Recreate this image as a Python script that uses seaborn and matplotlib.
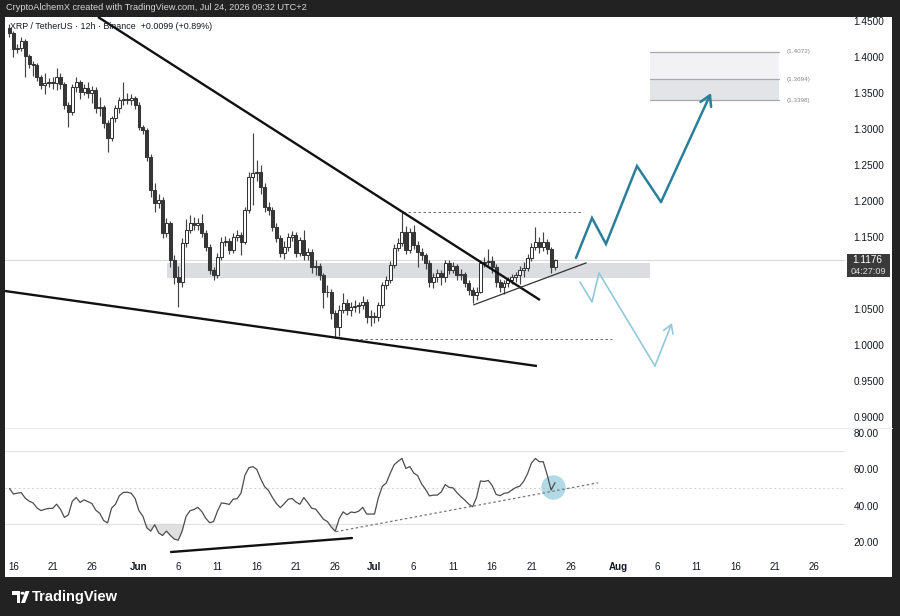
import numpy as np
import pandas as pd
import matplotlib
matplotlib.use("Agg")
import matplotlib.pyplot as plt
import matplotlib.dates as mdates
from matplotlib.patches import Rectangle, Ellipse, Polygon, Circle
import seaborn as sns

sns.set_theme(style="white")
plt.rcParams['font.family'] = ['Liberation Sans', 'DejaVu Sans']

# ---------------- data (XRP/USDT, 12h candles) ----------------
first_candle = "2026-05-15 12:00"
first_open = 1.440
closes = [
    1.433, 1.411, 1.413, 1.422, 1.401, 1.390, 1.389, 1.372, 1.361, 1.364,
    1.365, 1.364, 1.372, 1.362, 1.333, 1.324, 1.358, 1.365, 1.351, 1.357,
    1.350, 1.354, 1.329, 1.331, 1.308, 1.288, 1.315, 1.329, 1.340, 1.342,
    1.341, 1.343, 1.333, 1.303, 1.299, 1.261, 1.215, 1.197, 1.201, 1.156,
    1.169, 1.118, 1.094, 1.088, 1.142, 1.160, 1.169, 1.167, 1.169, 1.156,
    1.136, 1.104, 1.097, 1.122, 1.143, 1.144, 1.132, 1.150, 1.153, 1.143,
    1.188, 1.233, 1.239, 1.240, 1.219, 1.192, 1.188, 1.164, 1.149, 1.128,
    1.136, 1.150, 1.153, 1.128, 1.146, 1.125, 1.129, 1.108, 1.110, 1.097,
    1.074, 1.073, 1.044, 1.025, 1.049, 1.058, 1.049, 1.053, 1.054, 1.056,
    1.060, 1.039, 1.040, 1.039, 1.056, 1.083, 1.090, 1.111, 1.135, 1.142,
    1.157, 1.132, 1.157, 1.139, 1.129, 1.125, 1.114, 1.088, 1.094, 1.100,
    1.094, 1.114, 1.104, 1.110, 1.097, 1.098, 1.086, 1.076, 1.069, 1.074,
    1.114, 1.115, 1.116, 1.108, 1.088, 1.081, 1.086, 1.090, 1.094, 1.097,
    1.104, 1.107, 1.121, 1.136, 1.143, 1.136, 1.143, 1.133, 1.108, 1.1176,
]
highs = [
    1.446, 1.436, 1.418, 1.428, 1.425, 1.404, 1.395, 1.392, 1.375, 1.378,
    1.371, 1.372, 1.385, 1.378, 1.366, 1.338, 1.362, 1.372, 1.368, 1.362,
    1.365, 1.360, 1.358, 1.345, 1.334, 1.312, 1.318, 1.333, 1.344, 1.365,
    1.350, 1.348, 1.346, 1.337, 1.306, 1.302, 1.265, 1.225, 1.210, 1.205,
    1.176, 1.172, 1.125, 1.110, 1.148, 1.175, 1.180, 1.178, 1.176, 1.182,
    1.160, 1.140, 1.108, 1.128, 1.150, 1.152, 1.148, 1.156, 1.160, 1.157,
    1.192, 1.240, 1.294, 1.257, 1.250, 1.225, 1.198, 1.192, 1.170, 1.153,
    1.145, 1.156, 1.158, 1.157, 1.150, 1.160, 1.135, 1.133, 1.118, 1.114,
    1.100, 1.083, 1.078, 1.048, 1.056, 1.072, 1.064, 1.060, 1.062, 1.060,
    1.068, 1.064, 1.048, 1.046, 1.060, 1.087, 1.096, 1.116, 1.140, 1.148,
    1.185, 1.165, 1.162, 1.167, 1.145, 1.135, 1.128, 1.118, 1.100, 1.106,
    1.104, 1.118, 1.118, 1.115, 1.113, 1.105, 1.101, 1.090, 1.080, 1.080,
    1.118, 1.122, 1.133, 1.124, 1.112, 1.092, 1.090, 1.095, 1.099, 1.102,
    1.110, 1.115, 1.126, 1.142, 1.164, 1.150, 1.157, 1.147, 1.136, 1.120,
]
lows = [
    1.428, 1.400, 1.405, 1.409, 1.372, 1.385, 1.374, 1.367, 1.356, 1.348,
    1.358, 1.356, 1.354, 1.355, 1.328, 1.303, 1.320, 1.352, 1.342, 1.347,
    1.343, 1.336, 1.322, 1.318, 1.302, 1.268, 1.283, 1.310, 1.322, 1.334,
    1.335, 1.333, 1.328, 1.298, 1.293, 1.255, 1.205, 1.185, 1.190, 1.148,
    1.150, 1.108, 1.085, 1.053, 1.080, 1.136, 1.155, 1.160, 1.160, 1.150,
    1.130, 1.098, 1.090, 1.093, 1.118, 1.137, 1.126, 1.128, 1.145, 1.125,
    1.140, 1.183, 1.195, 1.228, 1.210, 1.185, 1.180, 1.158, 1.143, 1.122,
    1.120, 1.130, 1.145, 1.122, 1.123, 1.118, 1.118, 1.100, 1.097, 1.090,
    1.052, 1.066, 1.036, 1.010, 1.012, 1.044, 1.042, 1.040, 1.046, 1.044,
    1.050, 1.031, 1.027, 1.030, 1.033, 1.052, 1.078, 1.086, 1.107, 1.130,
    1.138, 1.126, 1.128, 1.134, 1.108, 1.118, 1.106, 1.080, 1.079, 1.087,
    1.083, 1.088, 1.098, 1.100, 1.090, 1.090, 1.080, 1.070, 1.058, 1.063,
    1.072, 1.108, 1.109, 1.100, 1.080, 1.074, 1.071, 1.080, 1.085, 1.088,
    1.085, 1.095, 1.103, 1.117, 1.132, 1.128, 1.130, 1.127, 1.100, 1.104,
]
rsi = [
    49.5, 46.4, 46.9, 47.2, 44.2, 42.5, 41.5, 38.8, 37.3, 38.0,
    38.5, 38.5, 40.8, 38.0, 33.5, 35.0, 42.4, 44.5, 41.8, 43.2,
    42.2, 41.2, 37.5, 35.8, 31.8, 30.5, 38.6, 40.8, 45.5, 47.3,
    47.4, 46.9, 44.0, 37.2, 34.2, 27.8, 26.0, 29.5, 25.0, 23.6,
    26.0, 23.6, 21.6, 21.0, 26.0, 34.2, 37.2, 37.9, 39.1, 36.8,
    33.1, 30.6, 31.3, 37.0, 41.5, 41.2, 40.7, 43.6, 43.8, 47.0,
    56.8, 60.9, 61.5, 60.0, 54.8, 50.5, 48.3, 44.5, 41.2, 38.9,
    41.1, 43.5, 44.0, 42.0, 40.8, 44.5, 41.7, 38.6, 38.1, 35.4,
    32.5, 31.3, 28.2, 25.9, 32.8, 36.6, 35.0, 36.5, 36.2, 37.0,
    39.1, 35.4, 35.4, 35.4, 44.5, 50.6, 52.5, 57.8, 62.5, 64.4,
    66.0, 60.5, 61.5, 58.0, 56.5, 52.0, 49.0, 45.4, 45.8, 45.8,
    47.5, 51.6, 50.1, 49.8, 47.2, 45.0, 43.1, 40.9, 39.4, 44.5,
    53.6, 53.3, 53.9, 51.0, 46.2, 45.5, 46.8, 47.1, 48.6, 50.0,
    50.7, 53.4, 57.6, 63.5, 66.0, 64.2, 64.2, 57.0, 48.6, 52.7,
]
last_price = 1.1176
countdown = "04:27:09"

price_ticks = [0.90, 0.95, 1.00, 1.05, 1.15, 1.20, 1.25, 1.30, 1.35, 1.40, 1.45]
rsi_ticks = [20, 40, 60, 80]
date_ticks = ["2026-05-16", "2026-05-21", "2026-05-26", "2026-06-01", "2026-06-06",
              "2026-06-11", "2026-06-16", "2026-06-21", "2026-06-26", "2026-07-01",
              "2026-07-06", "2026-07-11", "2026-07-16", "2026-07-21", "2026-07-26",
              "2026-08-01", "2026-08-06", "2026-08-11", "2026-08-16", "2026-08-21",
              "2026-08-26"]
date_labels = ["16", "21", "26", "Jun", "6", "11", "16", "21", "26", "Jul",
               "6", "11", "16", "21", "26", "Aug", "6", "11", "16", "21", "26"]

# drawings: (days from Jun 1, price)
upper_trend = [(-5.22, 1.4556), (51.08, 1.0625)]
lower_trend = [(-17.07, 1.0750), (50.70, 0.9708)]
rising_line = [(42.59, 1.0556), (57.03, 1.1143)]
top_dash = [(33.6, 1.185), (56.3, 1.185)]
bottom_dash = [(25.6, 1.009), (60.25, 1.009)]
support_zone = (3.53, 65.1, 1.0931, 1.1139)
target_levels = [1.4072, 1.3694, 1.3398]
target_span = (65.1, 81.5)
bull_path = [(55.67, 1.1209), (57.71, 1.1764), (59.49, 1.1403),
             (63.44, 1.2486), (66.50, 1.1986), (72.87, 1.3500)]
bear_path = [(56.18, 1.0875), (57.71, 1.0597), (58.60, 1.1000),
             (65.73, 0.9709), (67.90, 1.0306)]
rsi_div_line = [(4.08, 14.5), (27.13, 22.2)]
rsi_trend = [(25.1, 25.7), (58.5, 52.6)]
rsi_circle = (52.8, 50.0)

# ---------------- build ----------------
dates = pd.date_range(first_candle, periods=len(closes), freq="12h")
x = mdates.date2num(dates.to_pydatetime())
o = np.array([first_open] + closes[:-1])
c = np.array(closes)
h = np.array(highs)
l = np.array(lows)
r = np.array(rsi)
jun1 = mdates.date2num(pd.Timestamp("2026-06-01").to_pydatetime())

def D(d):
    return jun1 + d

W, H = 900, 616
fig = plt.figure(figsize=(9, 6.16), dpi=100)
fig.patch.set_facecolor("#222222")

def fx(px):
    return px / W

def fy(py):
    return 1 - py / H

# white panel
fig.patches.append(Rectangle((fx(5), fy(577)), (892 - 5) / W, (577 - 17) / H,
                             transform=fig.transFigure, facecolor="white",
                             edgecolor="none", zorder=-1))

ax = fig.add_axes([fx(5), fy(428), 840 / W, 411 / H])
ax2 = fig.add_axes([fx(5), fy(555), 840 / W, 127 / H], sharex=ax)
for a in (ax, ax2):
    a.set_facecolor("white")
    for s in a.spines.values():
        s.set_visible(False)

ax.set_xlim(D(-17.07), D(89.94))
ax.set_ylim(0.8847, 1.4556)
ax2.set_ylim(12.86, 82.75)

# support zone & current price line
z0, z1, zb, zt = support_zone
ax.add_patch(Rectangle((D(z0), zb), z1 - z0, zt - zb, facecolor="#d5d7dc",
                       edgecolor="none", alpha=0.85, zorder=1))
ax.axhline(last_price, color="#d9d9d9", lw=0.8, zorder=1)

# candles
up = c >= o
bottom = np.minimum(o, c)
height = np.maximum(np.abs(c - o), 0.0012)
ax.vlines(x, l, h, color="#444444", lw=0.85, zorder=3)
ax.bar(x[up], height[up], bottom=bottom[up], width=0.38, color="white",
       edgecolor="#333333", linewidth=0.75, zorder=4)
ax.bar(x[~up], height[~up], bottom=bottom[~up], width=0.38, color="#363636",
       edgecolor="#363636", linewidth=0.75, zorder=4)

# trend lines
for seg, lw, col in [(upper_trend, 1.7, "#111111"), (lower_trend, 1.7, "#111111"),
                     (rising_line, 0.9, "#333333")]:
    ax.plot([D(p[0]) for p in seg], [p[1] for p in seg], color=col, lw=lw,
            zorder=6, solid_capstyle="butt")
for seg in (top_dash, bottom_dash):
    ax.plot([D(p[0]) for p in seg], [p[1] for p in seg], color="#555555",
            lw=0.6, ls=(0, (3, 3)), zorder=5)

# target zone
t0, t1 = target_span
ax.add_patch(Rectangle((D(t0), target_levels[1]), t1 - t0,
                       target_levels[0] - target_levels[1],
                       facecolor="#f2f2f5", edgecolor="none", zorder=1))
ax.add_patch(Rectangle((D(t0), target_levels[2]), t1 - t0,
                       target_levels[1] - target_levels[2],
                       facecolor="#e3e4e8", edgecolor="none", zorder=1))
for lv in target_levels:
    ax.plot([D(t0), D(t1)], [lv, lv], color="#a8a8ad", lw=0.9, zorder=2)
    ax.text(D(t1 + 1.0), lv, f"({lv:.4f})", fontsize=4.6, color="#8a8a8a",
            va="center", ha="left", zorder=2)

# scenario paths
bull_col = "#2a7f9b"
bear_col = "#93c8da"
ax.plot([D(p[0]) for p in bull_path[:-1]], [p[1] for p in bull_path[:-1]],
        color=bull_col, lw=1.8, zorder=7, solid_joinstyle="miter")
ax.annotate("", xy=(D(bull_path[-1][0]), bull_path[-1][1]),
            xytext=(D(bull_path[-2][0]), bull_path[-2][1]),
            arrowprops=dict(arrowstyle="->,head_length=0.6,head_width=0.35",
                            color=bull_col, lw=1.8, shrinkA=0, shrinkB=0),
            zorder=7)
ax.plot([D(p[0]) for p in bear_path[:-1]], [p[1] for p in bear_path[:-1]],
        color=bear_col, lw=1.2, zorder=7)
ax.annotate("", xy=(D(bear_path[-1][0]), bear_path[-1][1]),
            xytext=(D(bear_path[-2][0]), bear_path[-2][1]),
            arrowprops=dict(arrowstyle="->,head_length=0.5,head_width=0.3",
                            color=bear_col, lw=1.2, shrinkA=0, shrinkB=0),
            zorder=7)

# ---------------- RSI pane ----------------
for lv, ls, col in [(70, "-", "#e3e3e3"), (30, "-", "#e3e3e3"), (50, (0, (1.5, 2.5)), "#cfcfcf")]:
    ax2.axhline(lv, color=col, lw=0.8, ls=ls, zorder=1)
ax2.fill_between(x, r, 30, where=r < 30, interpolate=True, color="#d4d4d4",
                 alpha=0.7, lw=0, zorder=2)
sns.lineplot(x=x, y=r, ax=ax2, color="#4d4d4d", lw=0.9, zorder=4)
ax2.plot([D(p[0]) for p in rsi_trend], [p[1] for p in rsi_trend],
         color="#777777", lw=0.9, ls=(0, (2, 2)), zorder=5)
ax2.add_patch(Ellipse((D(rsi_circle[0]), rsi_circle[1]), 3.1, 13.5,
                      facecolor="#9fd0e0", edgecolor="none", alpha=0.8, zorder=3))
ax2.plot([D(p[0]) for p in rsi_div_line], [p[1] for p in rsi_div_line],
         color="#111111", lw=1.7, zorder=5)

# ---------------- axes ticks ----------------
ax.yaxis.tick_right()
ax.set_yticks(price_ticks)
ax.set_yticklabels([f"{t:.4f}" for t in price_ticks])
ax.tick_params(axis="y", length=0, pad=6, labelsize=7.2, labelcolor="#131722")
ax.tick_params(axis="x", length=0, labelbottom=False)

ax2.yaxis.tick_right()
ax2.set_yticks(rsi_ticks)
ax2.set_yticklabels([f"{t:.2f}" for t in rsi_ticks])
ax2.tick_params(axis="y", length=0, pad=6, labelsize=7.2, labelcolor="#131722")
ax2.set_xticks([mdates.date2num(pd.Timestamp(d).to_pydatetime()) for d in date_ticks])
ax2.set_xticklabels(date_labels)
ax2.tick_params(axis="x", length=0, pad=5, labelsize=7, labelcolor="#131722")
for lab, txt in zip(ax2.get_xticklabels(), date_labels):
    if txt in ("Jun", "Jul", "Aug"):
        lab.set_fontweight("bold")
ax.set_xlabel("")
ax2.set_xlabel("")
ax2.set_ylabel("")

# separator between panes
fig.add_artist(plt.Line2D([fx(5), fx(892)], [fy(428), fy(428)],
                          transform=fig.transFigure, color="#ececec", lw=0.8))

# ---------------- header / labels ----------------
fig.text(fx(6), fy(8), "CryptoAlchemX created with TradingView.com, Jul 24, 2026 09:32 UTC+2",
         color="#d8d8d8", fontsize=6.6, va="center", ha="left")
ax.text(0.006, 0.978, "XRP / TetherUS · 12h · Binance  +0.0099 (+0.89%)",
        transform=ax.transAxes, fontsize=6.4, color="#131722", va="center",
        ha="left", zorder=8)

# last price label
fig.patches.append(Rectangle((fx(847), fy(277)), 43 / W, 23 / H,
                             transform=fig.transFigure, facecolor="#3a3a3a",
                             edgecolor="none", zorder=2))
fig.text(fx(852), fy(260), f"{last_price:.4f}", color="white", fontsize=7.2,
         va="center", ha="left", zorder=3)
fig.text(fx(851), fy(271), countdown, color="#dddddd", fontsize=6.6,
         va="center", ha="left", zorder=3)

# footer logo
fig.patches.append(Polygon([(fx(12), fy(591)), (fx(20), fy(591)), (fx(20), fy(603)),
                            (fx(16.5), fy(603)), (fx(16.5), fy(594.5)), (fx(12), fy(594.5))],
                           closed=True, transform=fig.transFigure, facecolor="white",
                           edgecolor="none", zorder=2))
fig.patches.append(Circle((fx(22.6), fy(593.2)), 2.1 / W, transform=fig.transFigure,
                          facecolor="white", edgecolor="none", zorder=2))
fig.patches.append(Polygon([(fx(25.5), fy(591)), (fx(29.5), fy(591)), (fx(25), fy(603)),
                            (fx(21), fy(603))],
                           closed=True, transform=fig.transFigure, facecolor="white",
                           edgecolor="none", zorder=2))
fig.text(fx(32), fy(597.5), "TradingView", color="white", fontsize=10.5,
         va="center", ha="left", fontweight="bold", zorder=3)

fig.savefig("out.png", dpi=100, facecolor=fig.get_facecolor())
